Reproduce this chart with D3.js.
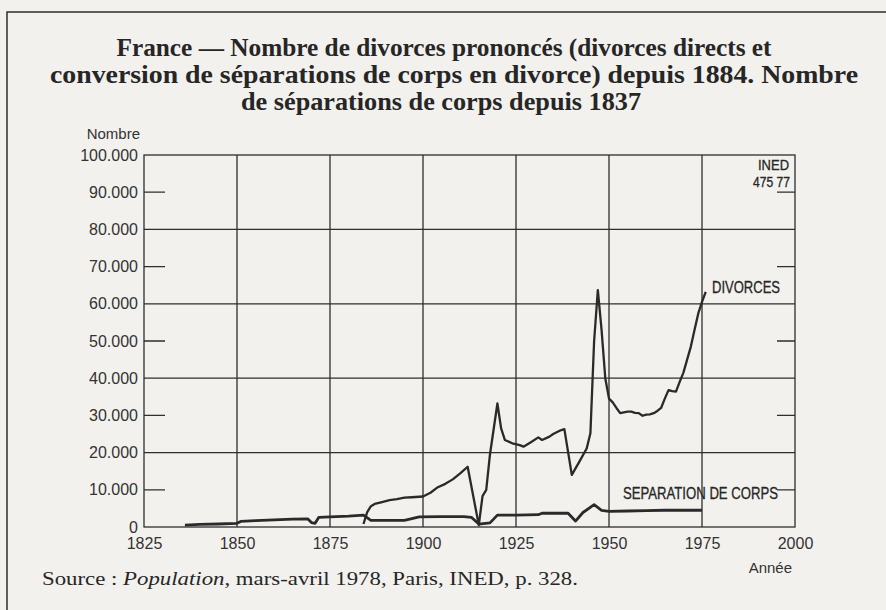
<!DOCTYPE html>
<html>
<head>
<meta charset="utf-8">
<script src="https://cdn.jsdelivr.net/npm/d3@7"></script>
<style>
  body { margin: 0; background: #f2f1ed; }
  svg { display: block; }
</style>
</head>
<body>
<script>
// values (Population, 1978)
const divYears = [1884, 1885, 1886, 1887, 1889, 1891, 1893, 1895, 1897, 1900, 1902, 1904, 1906, 1908, 1910, 1912,
  1915, 1916, 1917, 1918, 1920, 1921, 1922, 1924, 1926, 1927, 1929, 1931, 1932, 1934, 1935, 1937, 1938,
  1940, 1942, 1944, 1945, 1946, 1947, 1948, 1949, 1950, 1951, 1952, 1953, 1954, 1955, 1956, 1957, 1958,
  1959, 1960, 1961, 1962, 1963, 1964, 1965, 1966, 1967, 1968, 1969, 1970, 1971, 1972, 1973, 1974, 1975, 1976];
const divValues = [800, 4000, 5600, 6200, 6700, 7200, 7500, 7900, 8000, 8200, 9200, 10700, 11600, 12800, 14400, 16200,
  500, 8300, 10000, 19500, 33200, 26500, 23400, 22500, 22000, 21600, 22800, 24100, 23400, 24300, 25000, 26000, 26300,
  14000, 17500, 21100, 25200, 50000, 63700, 53000, 40000, 34500, 33500, 32000, 30600, 30800, 31000, 31000, 30700, 30600,
  29900, 30200, 30300, 30600, 31200, 32000, 34500, 36800, 36500, 36400, 39000, 41500, 45000, 48500, 53000, 57400, 60500, 63200];

const sepYears = [1836, 1840, 1845, 1850, 1851, 1855, 1860, 1865, 1869, 1870, 1871, 1872, 1875, 1880, 1884, 1886,
  1890, 1895, 1899, 1905, 1911, 1913, 1915, 1918, 1920, 1925, 1931, 1932, 1939, 1941, 1943, 1946, 1948,
  1950, 1955, 1960, 1965, 1970, 1975];
const sepValues = [500, 700, 800, 1000, 1500, 1700, 1900, 2100, 2200, 1200, 1000, 2600, 2700, 2900, 3200, 1800,
  1800, 1800, 2700, 2800, 2800, 2600, 800, 1100, 3200, 3200, 3300, 3700, 3700, 1600, 3900, 6000, 4500,
  4200, 4300, 4400, 4500, 4500, 4500];

const xTicks = [1825, 1850, 1875, 1900, 1925, 1950, 1975, 2000];
const yTicks = [0, 10000, 20000, 30000, 40000, 50000, 60000, 70000, 80000, 90000, 100000];

const titleLines = [
  "France — Nombre de divorces prononcés (divorces directs et",
  "conversion de séparations de corps en divorce) depuis 1884. Nombre",
  "de séparations de corps depuis 1837"
];

const width = 886, height = 610;
const ink = "#2e2e2e";

const svg = d3.select("body").append("svg").attr("width", width).attr("height", height);

svg.append("rect").attr("width", width).attr("height", height).attr("fill", "#f2f1ed");

// page frame
svg.append("path")
  .attr("d", "M7,610V12H886")
  .attr("fill", "none")
  .attr("stroke", ink)
  .attr("stroke-width", 1.5);

// title
const titleWidths = [655, 808, 400];
const titleCx = [444, 454, 441];
svg.append("g").selectAll("text")
  .data(titleLines)
  .enter()
  .append("text")
  .attr("x", (d, i) => titleCx[i])
  .attr("y", (d, i) => 56 + i * 27)
  .attr("text-anchor", "middle")
  .attr("textLength", (d, i) => titleWidths[i])
  .attr("lengthAdjust", "spacingAndGlyphs")
  .style("font-family", "'Liberation Serif', 'Times New Roman', serif")
  .style("font-weight", "bold")
  .style("font-size", "26px")
  .attr("fill", "#262626")
  .text(d => d);

const x = d3.scaleLinear().domain([1825, 2000]).range([144, 795]);
const y = d3.scaleLinear().domain([0, 100000]).range([527, 155]);

const fmt = d3.formatLocale({ decimal: ",", thousands: ".", grouping: [3], currency: ["", ""] }).format(",");

const grid = svg.append("g").attr("stroke", ink).attr("stroke-width", 1.3).attr("fill", "none");

// frame of the plot
grid.append("rect")
  .attr("x", x(1825)).attr("y", y(100000))
  .attr("width", x(2000) - x(1825)).attr("height", y(0) - y(100000));

// vertical grid lines
grid.selectAll(".vline")
  .data(xTicks.slice(1, -1))
  .enter()
  .append("line")
  .attr("class", "vline")
  .attr("x1", d => x(d)).attr("x2", d => x(d))
  .attr("y1", y(100000)).attr("y2", y(0));

// horizontal lines every 20.000, short ticks in between
grid.selectAll(".hline")
  .data(yTicks.filter(d => d > 0 && d < 100000))
  .enter()
  .append("path")
  .attr("class", "hline")
  .attr("d", d => d % 20000 === 0
    ? `M${x(1825)},${y(d)}H${x(2000)}`
    : `M${x(1825)},${y(d)}h21M${x(2000)},${y(d)}h-18`);

// axes (labels only)
const labelFont = "'Liberation Sans', Arial, Helvetica, sans-serif";

const yAxis = svg.append("g")
  .attr("transform", `translate(${x(1825)},0)`)
  .call(d3.axisLeft(y).tickValues(yTicks).tickSize(0).tickPadding(6).tickFormat(fmt));
yAxis.select(".domain").remove();
yAxis.selectAll("text")
  .style("font-family", labelFont).style("font-size", "16px").attr("fill", "#333");

const xAxis = svg.append("g")
  .attr("transform", `translate(0,${y(0)})`)
  .call(d3.axisBottom(x).tickValues(xTicks).tickSize(0).tickPadding(11).tickFormat(d3.format("d")));
xAxis.select(".domain").remove();
xAxis.selectAll("text")
  .style("font-family", labelFont).style("font-size", "16px").attr("fill", "#333");

svg.append("text")
  .attr("x", 140).attr("y", 139)
  .attr("text-anchor", "end")
  .style("font-family", labelFont).style("font-size", "15px").attr("fill", "#333")
  .text("Nombre");

svg.append("text")
  .attr("x", 792).attr("y", 573)
  .attr("text-anchor", "end")
  .style("font-family", labelFont).style("font-size", "15px").attr("fill", "#333")
  .text("Année");

// series
const line = d3.line().x(d => x(d[0])).y(d => y(d[1]));

svg.append("path")
  .datum(d3.zip(sepYears, sepValues))
  .attr("d", line)
  .attr("fill", "none")
  .attr("stroke", "#2a2a2a")
  .attr("stroke-width", 2.8)
  .attr("stroke-linejoin", "round");

svg.append("path")
  .datum(d3.zip(divYears, divValues))
  .attr("d", line)
  .attr("fill", "none")
  .attr("stroke", "#2a2a2a")
  .attr("stroke-width", 2.3)
  .attr("stroke-linejoin", "round");

// series labels
const seriesLabel = (txt, lx, ly, len, size) => svg.append("text")
  .attr("x", lx).attr("y", ly)
  .attr("textLength", len).attr("lengthAdjust", "spacingAndGlyphs")
  .style("font-family", labelFont).style("font-size", size).attr("fill", "#262626")
  .attr("stroke", "#262626").attr("stroke-width", 0.3)
  .text(txt);

seriesLabel("DIVORCES", 712, 293, 68, "16px");
seriesLabel("SEPARATION DE CORPS", 623, 499, 155, "16px");
seriesLabel("INED", 758, 170, 31, "14px");
seriesLabel("475 77", 753, 187, 37, "14px");

// source
const src = svg.append("text")
  .attr("x", 42).attr("y", 585)
  .attr("textLength", 536).attr("lengthAdjust", "spacingAndGlyphs")
  .style("font-family", "'Liberation Serif', 'Times New Roman', serif")
  .style("font-size", "19px")
  .attr("fill", "#262626");
src.append("tspan").text("Source : ");
src.append("tspan").style("font-style", "italic").text("Population");
src.append("tspan").text(", mars-avril 1978, Paris, INED, p. 328.");
</script>
</body>
</html>
